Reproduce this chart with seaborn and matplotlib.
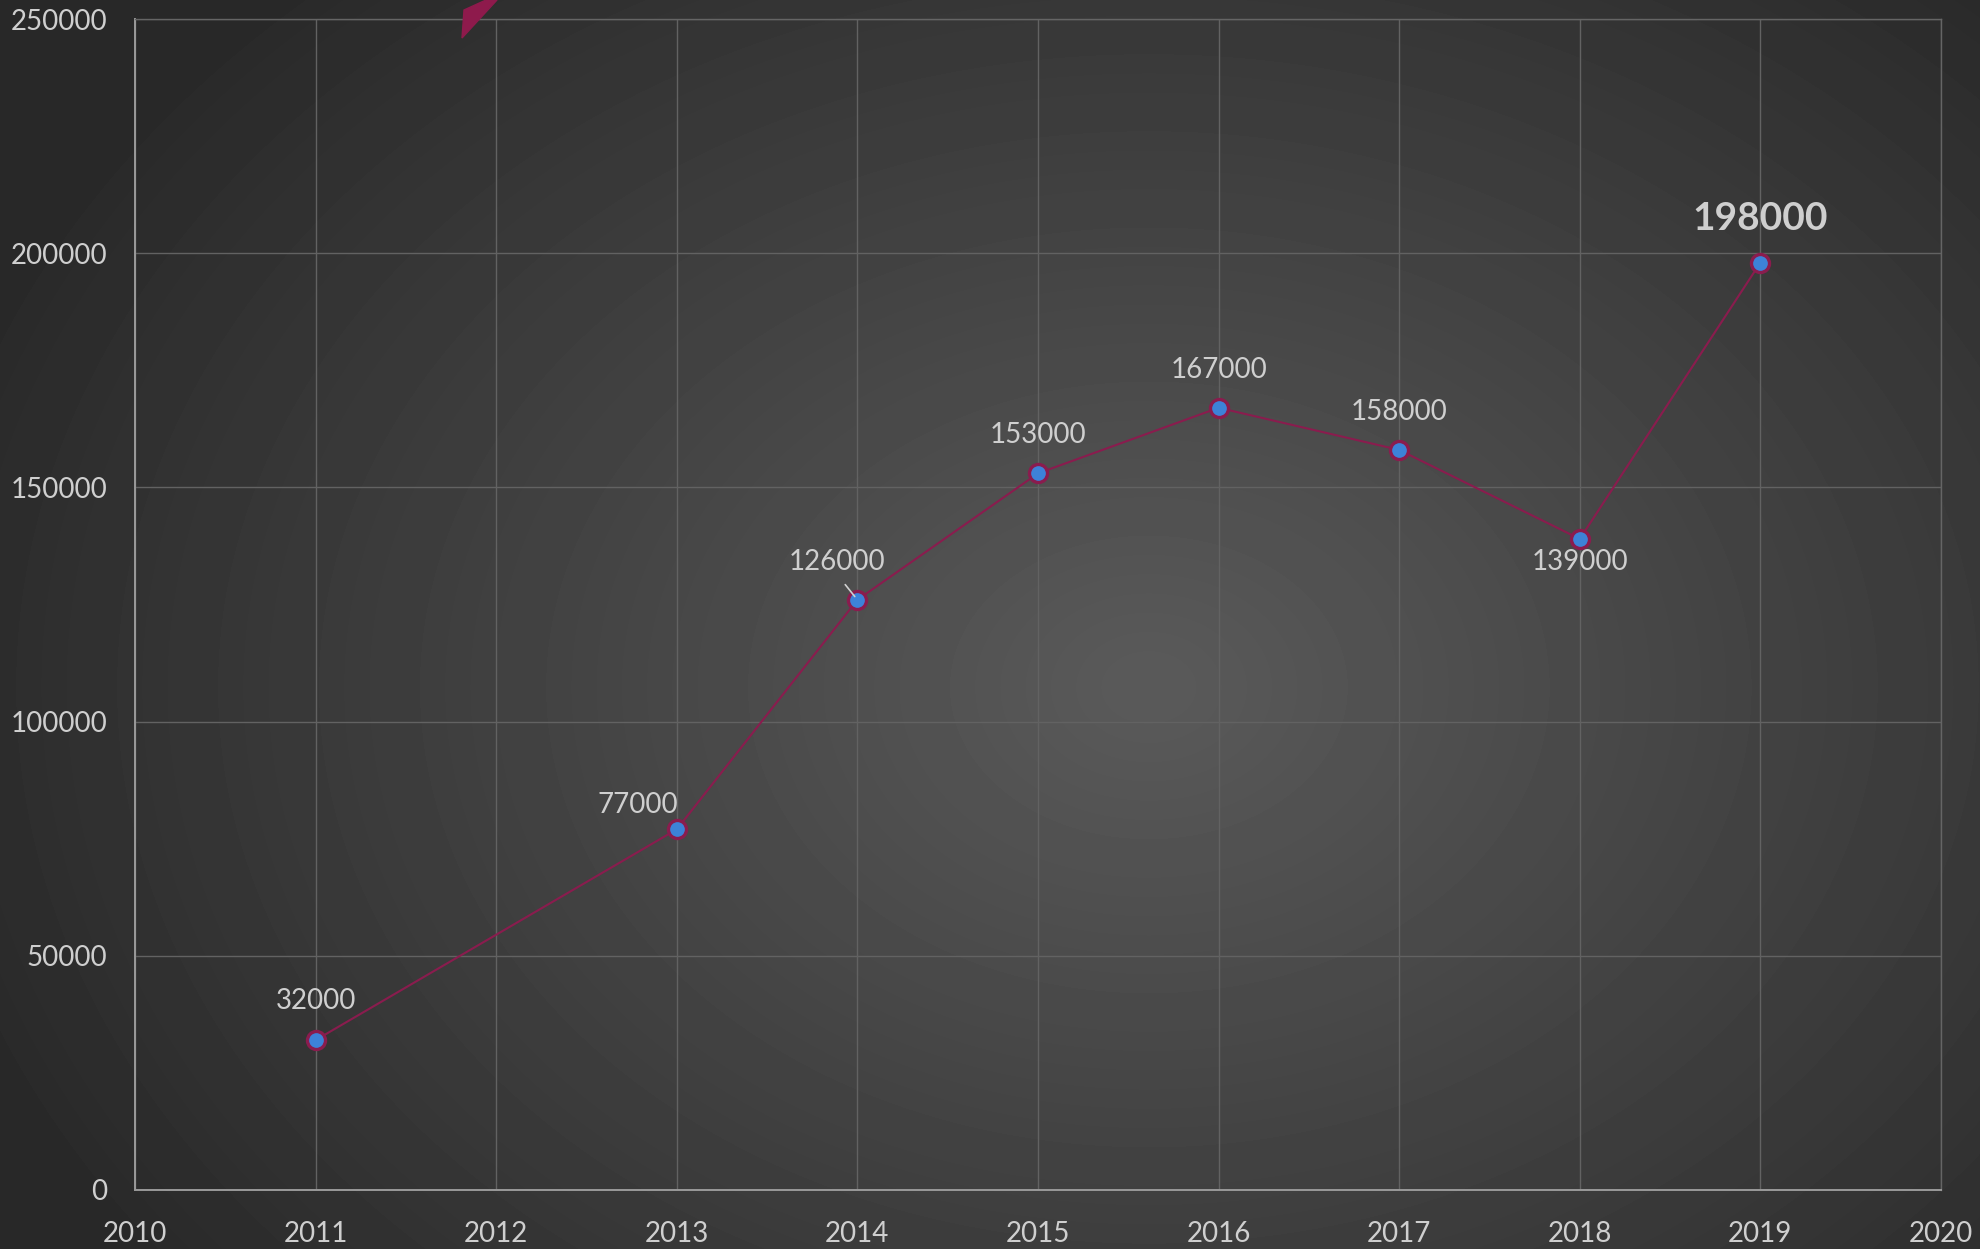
import numpy as np
import pandas as pd
import matplotlib.pyplot as plt
from matplotlib.patches import Polygon
import seaborn as sns

# dados
years = [2011, 2013, 2014, 2015, 2016, 2017, 2018, 2019]
values = [32000, 77000, 126000, 153000, 167000, 158000, 139000, 198000]
x_ticks = list(range(2010, 2021))
y_ticks = [0, 50000, 100000, 150000, 200000, 250000]

# deslocamento dos rótulos (pixels)
label_offsets = [(0, 39), (-39, 24), (-20, 38), (0, 38), (0, 38), (0, 38), (0, -23), (0, 44)]

sns.set_theme(style="dark")
plt.rcParams["font.family"] = ["Lato", "DejaVu Sans"]

W, H = 1980, 1249
fig = plt.figure(figsize=(W / 100, H / 100), dpi=100)

# fundo com gradiente radial
bg = fig.add_axes([0, 0, 1, 1], zorder=-10)
yy, xx = np.mgrid[0:H, 0:W]
cx, cy = 0.58 * W, 0.55 * H
r = np.sqrt(((xx - cx) / (0.62 * W)) ** 2 + ((yy - cy) / (0.75 * H)) ** 2)
shade = np.clip(0.355 - 0.19 * r, 0.16, 0.36)
bg.imshow(shade, cmap="gray", vmin=0, vmax=1, aspect="auto", interpolation="bilinear")
bg.axis("off")

ax = fig.add_axes([135 / W, 1 - 1190 / H, (1941 - 135) / W, (1190 - 19) / H])
ax.patch.set_alpha(0)

df = pd.DataFrame({"Ano": years, "Valor": values})
sns.lineplot(
    data=df, x="Ano", y="Valor", ax=ax,
    color="#8a1c4e", linewidth=1.5,
    marker="o", markersize=13, markerfacecolor="#3d82d8",
    markeredgecolor="#8a1c4e", markeredgewidth=2.4, zorder=5,
)

for i, (x, y) in enumerate(zip(years, values)):
    dx, dy = label_offsets[i]
    bold = y == max(values)
    kw = {}
    if x == 2014:
        kw["arrowprops"] = dict(arrowstyle="-", color="#d0d0d0", lw=1.2,
                                relpos=(0.5, 0.0), shrinkA=6, shrinkB=3)
    ax.annotate(
        f"{y}", (x, y), xytext=(dx, dy), textcoords="offset pixels",
        ha="center", va="center", color="#cfcfcf",
        fontsize=28 if bold else 20, fontweight="bold" if bold else "normal",
        zorder=6, **kw,
    )

ax.set_xlim(2010, 2020)
ax.set_ylim(0, 250000)
ax.set_xticks(x_ticks)
ax.set_yticks(y_ticks)
ax.set_xticklabels([str(t) for t in x_ticks])
ax.set_yticklabels([str(t) for t in y_ticks])
ax.set_xlabel("")
ax.set_ylabel("")
ax.grid(True, color="#626262", linewidth=1.0)
ax.tick_params(axis="both", length=0, colors="#cfcfcf", labelsize=20)
ax.tick_params(axis="x", pad=22)
ax.tick_params(axis="y", pad=20)
for side, spine in ax.spines.items():
    spine.set_visible(True)
    spine.set_color("#9a9a9a" if side in ("left", "bottom") else "#656565")
    spine.set_linewidth(1.4 if side in ("left", "bottom") else 1.0)

# forma decorativa no topo
pts = [(462, 38), (464, 10), (486, 0), (497, 0)]
fig.patches.append(Polygon([(px / W, 1 - py / H) for px, py in pts], closed=True,
                           transform=fig.transFigure, color="#8e1a4c", zorder=10))

fig.savefig("out.png", dpi=100)
